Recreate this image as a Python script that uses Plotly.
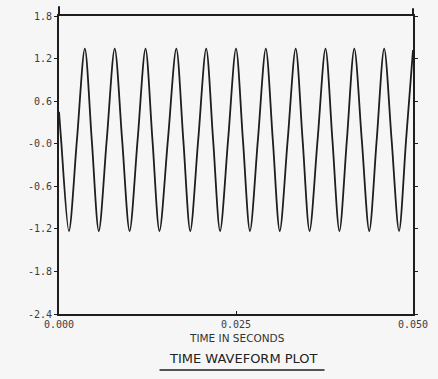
import plotly.graph_objects as go

# Values (time in seconds, amplitude)
times = [0.0, 0.00030, 0.00140, 0.00253, 0.00365, 0.00463, 0.00562, 0.00674, 0.00787,
         0.00892, 0.00997, 0.01110, 0.01222, 0.01320, 0.01419, 0.01538, 0.01657,
         0.01756, 0.01854, 0.01966, 0.02079, 0.02177, 0.02275, 0.02388, 0.02500,
         0.02598, 0.02697, 0.02809, 0.02921, 0.03020, 0.03118, 0.03230, 0.03343,
         0.03441, 0.03539, 0.03652, 0.03764, 0.03862, 0.03961, 0.04066, 0.04171,
         0.04277, 0.04382, 0.04487, 0.04593, 0.04698, 0.04803, 0.04902, 0.05000]
values = [0.45,
          0.05, -1.23, 0.05, 1.34,
          0.05, -1.23, 0.05, 1.34,
          0.05, -1.23, 0.05, 1.34,
          0.05, -1.23, 0.05, 1.34,
          0.05, -1.23, 0.05, 1.34,
          0.05, -1.23, 0.05, 1.34,
          0.05, -1.23, 0.05, 1.34,
          0.05, -1.23, 0.05, 1.34,
          0.05, -1.23, 0.05, 1.34,
          0.05, -1.23, 0.05, 1.34,
          0.05, -1.23, 0.05, 1.34,
          0.05, -1.23, 0.05,
          1.32]

y_tick_vals = [1.8, 1.2, 0.6, 0.0, -0.6, -1.2, -1.8, -2.4]
y_tick_text = ["1.8", "1.2", "0.6", "-0.0", "-0.6", "-1.2", "-1.8", "-2.4"]
x_tick_vals = [0.0, 0.025, 0.05]
x_tick_text = ["0.000", "0.025", "0.050"]

x_title = "TIME IN SECONDS"
plot_title = "TIME WAVEFORM PLOT"

ink = "#1e1e1e"
mono = dict(family="DejaVu Sans Mono", size=10, color="#3c3c3c")

fig = go.Figure()
fig.add_trace(go.Scatter(
    x=times, y=values, mode="lines",
    line=dict(color=ink, width=1.8, shape="spline", smoothing=0.85),
    showlegend=False, hoverinfo="skip",
))

fig.update_layout(
    width=438, height=379,
    margin=dict(l=59, r=23, t=10, b=65),
    paper_bgcolor="#f6f6f6", plot_bgcolor="#f6f6f6",
    xaxis=dict(
        range=[0, 0.05], tickvals=x_tick_vals, ticktext=x_tick_text,
        showgrid=False, zeroline=False, showline=True, mirror=True,
        linecolor=ink, linewidth=2, ticks="inside", ticklen=3, tickcolor=ink,
        tickfont=mono,
    ),
    yaxis=dict(
        range=[-2.4, 1.8], tickvals=y_tick_vals, ticktext=y_tick_text,
        showgrid=False, zeroline=False, showline=True, mirror="ticks",
        linecolor=ink, linewidth=2, ticks="outside", ticklen=3, tickcolor=ink,
        tickfont=mono,
    ),
    annotations=[
        dict(text=x_title, xref="paper", yref="paper", x=0.503, y=-0.08,
             xanchor="center", yanchor="middle", showarrow=False,
             font=dict(family="DejaVu Sans", size=10.5, color="#333333")),
        dict(text=plot_title, xref="paper", yref="paper", x=0.52, y=-0.151,
             xanchor="center", yanchor="middle", showarrow=False,
             font=dict(family="DejaVu Sans", size=13, color="#222222")),
    ],
    shapes=[
        dict(type="line", xref="paper", yref="paper", x0=0.284, x1=0.75,
             y0=-0.1875, y1=-0.1875, line=dict(color=ink, width=1.5)),
        dict(type="line", xref="paper", yref="paper", x0=0, x1=0,
             y0=1.0, y1=1.033, line=dict(color=ink, width=2)),
        dict(type="line", xref="paper", yref="paper", x0=1, x1=1,
             y0=1.0, y1=1.026, line=dict(color=ink, width=2)),
    ],
)

fig.write_html("out.html")
